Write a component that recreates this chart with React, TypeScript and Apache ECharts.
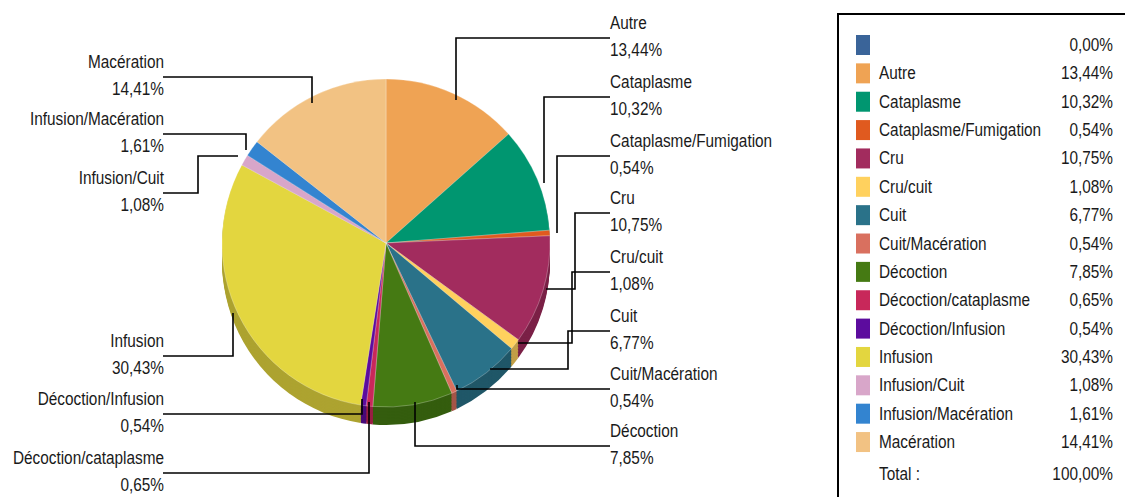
import React, { useEffect, useRef } from "react";
import * as echarts from "echarts";

// ---- data ----
const categories = [
  "",
  "Autre",
  "Cataplasme",
  "Cataplasme/Fumigation",
  "Cru",
  "Cru/cuit",
  "Cuit",
  "Cuit/Macération",
  "Décoction",
  "Décoction/cataplasme",
  "Décoction/Infusion",
  "Infusion",
  "Infusion/Cuit",
  "Infusion/Macération",
  "Macération",
];
const percentages = [0, 13.44, 10.32, 0.54, 10.75, 1.08, 6.77, 0.54, 7.85, 0.65, 0.54, 30.43, 1.08, 1.61, 14.41];
const colors = [
  "#3A6499",
  "#EFA354",
  "#009670",
  "#E05A1F",
  "#A22C5E",
  "#FFD15E",
  "#2A7289",
  "#D9705F",
  "#457A13",
  "#C8285A",
  "#5C0C9E",
  "#E3D63F",
  "#D8A6C9",
  "#3384D0",
  "#F2C283",
];
const totalLabel = "Total :";
const totalValue = "100,00%";

// ---- layout (positions and styles only) ----
const FONT = "'Liberation Sans', Arial, sans-serif";
const FS = 18.5;
const NARROW = 0.83;
const TEXT_COLOR = "#1a1a1a";
const CX = 386;
const CY = 243;
const R = 164;
const DEPTH = 18;

type LL = { side: "r" | "l"; y: number; pts: number[][] };
const labelLayouts: (LL | null)[] = [
  null,
  { side: "r", y: 38, pts: [[456, 100], [456, 38], [610, 38]] },
  { side: "r", y: 97, pts: [[544, 183], [544, 97], [610, 97]] },
  { side: "r", y: 156, pts: [[557, 233], [557, 156], [610, 156]] },
  { side: "r", y: 213, pts: [[546, 289], [575, 289], [575, 213], [610, 213]] },
  { side: "r", y: 272, pts: [[518, 343], [572, 343], [572, 272], [610, 272]] },
  { side: "r", y: 331, pts: [[490, 369], [568, 369], [568, 331], [610, 331]] },
  { side: "r", y: 389, pts: [[457, 385], [457, 389], [610, 389]] },
  { side: "r", y: 446, pts: [[415, 402], [415, 446], [610, 446]] },
  { side: "l", y: 473, pts: [[369, 402], [369, 473], [163, 473]] },
  { side: "l", y: 414, pts: [[362, 399], [362, 414], [163, 414]] },
  { side: "l", y: 356, pts: [[233, 313], [233, 356], [163, 356]] },
  { side: "l", y: 193, pts: [[238, 156], [198, 156], [198, 193], [163, 193]] },
  { side: "l", y: 134, pts: [[246, 150], [246, 134], [163, 134]] },
  { side: "l", y: 77, pts: [[312, 103], [312, 77], [163, 77]] },
];

const LEGEND_X = 856;
const LEGEND_Y0 = 45;
const LEGEND_STEP = 28.36;
const LEGEND_NAME_X = 879;
const LEGEND_VALUE_X = 1113;
const TOTAL_Y = 474;

const fmt = (v: number) => v.toFixed(2).replace(".", ",") + "%";

function darken(hex: string, k = 0.76) {
  const n = parseInt(hex.slice(1), 16);
  const r = Math.round(((n >> 16) & 255) * k);
  const g = Math.round(((n >> 8) & 255) * k);
  const b = Math.round((n & 255) * k);
  return `rgb(${r},${g},${b})`;
}

function narrowText(x: number, y: number, text: string, align: "left" | "right") {
  return {
    type: "text",
    x,
    y,
    scaleX: NARROW,
    silent: true,
    z: 20,
    style: {
      text,
      x: 0,
      y: 0,
      fontFamily: FONT,
      fontSize: FS,
      fill: TEXT_COLOR,
      align,
      verticalAlign: "middle",
    },
  };
}

export default function App() {
  const ref = useRef<HTMLDivElement>(null);
  useEffect(() => {
    document.body.style.margin = "0";
    const chart = echarts.init(ref.current!, null, { renderer: "svg" });

    const topData = categories.map((name, i) => ({
      name: name || " ",
      value: percentages[i],
      itemStyle: {
        color: colors[i],
        borderWidth: i === 0 ? 0 : 0.6,
        borderColor: "rgba(255,255,255,0.45)",
      },
    }));

    const sideSeries: any[] = [];
    for (let off = DEPTH; off >= 1; off -= 1.5) {
      sideSeries.push({
        type: "pie",
        name: "side" + off,
        z: 1,
        silent: true,
        center: [CX, CY + off],
        radius: R,
        startAngle: 90,
        clockwise: true,
        label: { show: false },
        labelLine: { show: false },
        emphasis: { disabled: true },
        data: categories.map((name, i) => ({
          name: name || " ",
          value: percentages[i],
          itemStyle: { color: darken(colors[i]), borderWidth: 0 },
        })),
      });
    }

    const graphics: any[] = [];
    // label lines and labels
    categories.forEach((name, i) => {
      const L = labelLayouts[i];
      if (!L) return;
      graphics.push({
        type: "polyline",
        silent: true,
        z: 15,
        shape: { points: L.pts },
        style: { stroke: "#000", lineWidth: 1.6, fill: "none" },
      });
      const tx = L.side === "r" ? 610 : 164;
      const al = L.side === "r" ? "left" : "right";
      graphics.push(narrowText(tx, L.y - 15, name, al));
      graphics.push(narrowText(tx, L.y + 12, fmt(percentages[i]), al));
    });
    // legend table
    graphics.push({
      type: "rect",
      silent: true,
      shape: { x: 838, y: 14, width: 320, height: 520 },
      style: { fill: "none", stroke: "#000", lineWidth: 2 },
    });
    categories.forEach((name, i) => {
      const cy = LEGEND_Y0 + i * LEGEND_STEP;
      graphics.push({
        type: "rect",
        silent: true,
        shape: { x: LEGEND_X, y: cy - 10, width: 14, height: 20 },
        style: { fill: colors[i] },
      });
      if (name) graphics.push(narrowText(LEGEND_NAME_X, cy, name, "left"));
      graphics.push(narrowText(LEGEND_VALUE_X, cy, fmt(percentages[i]), "right"));
    });
    graphics.push(narrowText(LEGEND_NAME_X, TOTAL_Y, totalLabel, "left"));
    graphics.push(narrowText(LEGEND_VALUE_X, TOTAL_Y, totalValue, "right"));

    chart.setOption({
      animation: false,
      graphic: graphics,
      series: [
        {
          type: "pie",
          name: "top",
          z: 5,
          silent: true,
          center: [CX, CY],
          radius: R,
          startAngle: 90,
          clockwise: true,
          emphasis: { disabled: true },
          label: { show: false },
          labelLine: { show: false },
          data: topData,
        },
        ...sideSeries,
      ],
    });
    return () => chart.dispose();
  }, []);
  return <div ref={ref} style={{ width: 1125, height: 497 }} />;
}
